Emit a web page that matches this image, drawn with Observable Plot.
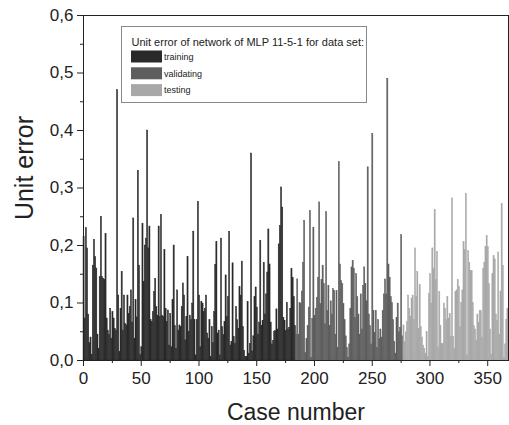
<!DOCTYPE html>
<html>
<head>
<meta charset="utf-8">
<script src="https://cdn.jsdelivr.net/npm/d3@7"></script>
<script src="https://cdn.jsdelivr.net/npm/@observablehq/plot@0.6"></script>
<style>
  html, body { margin: 0; padding: 0; background: #fff; }
  svg { display: block; }
</style>
</head>
<body>
<div id="chart"></div>
<script>
// Unit error per case
const training = [
  0.215, 0.073, 0.23, 0.195, 0.08, 0.03, 0.04, 0.01, 0.165, 0.21, 0.18, 0.16, 0.045, 0.02, 0.145, 0.25, 0.145, 0.142, 0.14, 0.22, 0.073, 0.052, 0.044, 0.09, 0.038, 0.084, 0.073, 0.055, 0.052, 0.47,
  0.113, 0.015, 0.09, 0.154, 0.052, 0.113, 0.064, 0.061, 0.113, 0.081, 0.093, 0.122, 0.066, 0.247, 0.038, 0.105, 0.075, 0.33,
  0.165, 0.01, 0.023, 0.238, 0.137, 0.2, 0.212, 0.40,
  0.195, 0.233, 0.07, 0.067, 0.084, 0.119, 0.142, 0.093, 0.078, 0.233, 0.076, 0.253, 0.078, 0.076, 0.192, 0.09, 0.067, 0.087, 0.026, 0.081, 0.023, 0.105, 0.2, 0.06, 0.02, 0.122, 0.052, 0.061, 0.058, 0.093, 0.134, 0.113,
  0.035, 0.076, 0.18, 0.05, 0.078, 0.07, 0.099, 0.224, 0.07, 0.009, 0.07, 0.276,
  0.113, 0.023, 0.102, 0.099, 0.084, 0.09, 0.113, 0.047, 0.038, 0.07, 0.006, 0.058, 0.03, 0.084, 0.166, 0.206, 0.047, 0.052, 0.009, 0.212, 0.058, 0.044, 0.067, 0.148, 0.076, 0.11, 0.224, 0.026, 0.032, 0.169, 0.041, 0.029, 0.093, 0.07, 0.055, 0.128, 0.113, 0.172, 0.058, 0.017, 0.006, 0.006, 0.102, 0.012, 0.029, 0.36,
  0.016, 0.042, 0.11, 0.127, 0.092, 0.045, 0.066, 0.208, 0.06, 0.069, 0.17, 0.08, 0.115, 0.153, 0.228, 0.167, 0.066, 0.028, 0.034, 0.05, 0.051, 0.089, 0.054, 0.202, 0.234, 0.301,
  0.266, 0.074, 0.069, 0.051, 0.1, 0.054, 0.057, 0.09, 0.159, 0.144, 0.11, 0.06
];
const validating = [
  0.045, 0.141, 0.045, 0.1, 0.098, 0.12, 0.17, 0.243, 0.013, 0.037, 0.06, 0.092, 0.26, 0.005, 0.072, 0.231, 0.077, 0.09, 0.109, 0.144, 0.275, 0.098, 0.14, 0.165, 0.133, 0.063, 0.258, 0.086, 0.13, 0.06, 0.103, 0.08, 0.124, 0.121, 0.045, 0.121, 0.022, 0.345,
  0.167, 0.138, 0.133, 0.098, 0.07, 0.042, 0.022, 0.005, 0.028, 0.09, 0.162, 0.173, 0.159, 0.074, 0.15, 0.11, 0.08, 0.045, 0.115, 0.054, 0.13, 0.162, 0.133, 0.103, 0.336,
  0.08, 0.06, 0.028, 0.394,
  0.086, 0.048, 0.086, 0.022, 0.07, 0.037, 0.054, 0.04, 0.086, 0.115, 0.141, 0.115, 0.49,
  0.167, 0.144, 0.11, 0.1, 0.07, 0.032, 0.012, 0.074, 0.099, 0.049, 0.057, 0.218, 0.042
];
const testing = [
  0.061, 0.032, 0.049, 0.067, 0.113, 0.09, 0.076, 0.108, 0.113, 0.07, 0.195, 0.11, 0.154, 0.055, 0.131, 0.058, 0.04, 0.026, 0.02, 0.012, 0.05, 0.006, 0.116, 0.15, 0.099, 0.195, 0.16, 0.262, 0.14, 0.189, 0.023, 0.119, 0.06, 0.029, 0.029, 0.099, 0.09, 0.07, 0.11, 0.073, 0.081, 0.041, 0.282,
  0.041, 0.02, 0.119, 0.122, 0.14, 0.128, 0.058, 0.1, 0.122, 0.206, 0.192, 0.29,
  0.009, 0.19, 0.17, 0.156, 0.156, 0.1, 0.06, 0.054, 0.034, 0.08, 0.066, 0.086, 0.086, 0.04, 0.159, 0.17, 0.197, 0.217, 0.197, 0.133, 0.054, 0.01, 0.15, 0.182, 0.176, 0.08, 0.069, 0.188, 0.045, 0.12, 0.272, 0.165, 0.005, 0.028, 0.07, 0.09
];
const setNames = ["training", "validating", "testing"];
const setColors = ["#2a2a2a", "#5e5e5e", "#a8a8a8"];
const xTicks = [0, 50, 100, 150, 200, 250, 300, 350];
const xMinor = [25, 75, 125, 175, 225, 275, 325];
const yTicks = [0, 0.1, 0.2, 0.3, 0.4, 0.5, 0.6];
const yMinor = [0.05, 0.15, 0.25, 0.35, 0.45, 0.55];
const legendTitle = "Unit error of network of MLP 11-5-1 for data set:";
const xTitle = "Case number";
const yTitle = "Unit error";

const rows = [];
let n = 0;
[training, validating, testing].forEach((arr, k) => {
  arr.forEach(v => { n += 1; rows.push({c: n, v, set: setNames[k]}); });
});

const fmt = d => d.toFixed(1).replace(".", ",");
const font = "'Liberation Sans', Arial, sans-serif";

const svg = Plot.plot({
  width: 509,
  height: 425,
  marginLeft: 83,
  marginRight: 1,
  marginTop: 15,
  marginBottom: 65,
  style: {fontFamily: font, color: "#222", background: "#fff"},
  x: {domain: [0, 368]},
  y: {domain: [0, 0.6]},
  color: {domain: setNames, range: setColors},
  marks: [
    Plot.rect(rows, {x1: d => d.c - 1, x2: d => d.c, y1: 0, y2: "v", fill: "set", stroke: "set", strokeWidth: 0.45, inset: 0}),
    Plot.axisX({ticks: xTicks, tickSize: 6, tickPadding: 5, tickFormat: d => String(d), fontSize: 17, label: null, stroke: "#222"}),
    Plot.axisX({ticks: xMinor, tickSize: 3, tickFormat: () => "", label: null, stroke: "#222"}),
    Plot.axisY({ticks: yTicks, tickSize: 6, tickPadding: 4, tickFormat: fmt, fontSize: 17, label: null, stroke: "#222"}),
    Plot.axisY({ticks: yMinor, tickSize: 3, tickFormat: () => "", label: null, stroke: "#222"}),
    Plot.frame({stroke: "#222", strokeWidth: 1})
  ]
});

document.getElementById("chart").appendChild(svg);

const s = d3.select(svg);
// axis titles
s.append("text")
  .attr("x", 296).attr("y", 420)
  .attr("text-anchor", "middle")
  .attr("font-family", font).attr("font-size", 23).attr("fill", "#222")
  .text(xTitle);
s.append("text")
  .attr("transform", "translate(33,168) rotate(-90)")
  .attr("text-anchor", "middle")
  .attr("font-family", font).attr("font-size", 25).attr("fill", "#222")
  .text(yTitle);

// legend box
const lg = s.append("g").attr("text-anchor", "start");
lg.append("rect")
  .attr("x", 121.5).attr("y", 26.5).attr("width", 245).attr("height", 76)
  .attr("fill", "#fff").attr("stroke", "#888").attr("stroke-width", 1);
lg.append("text")
  .attr("x", 131.5).attr("y", 46)
  .attr("text-anchor", "start")
  .attr("font-family", font).attr("font-size", 11).attr("fill", "#222")
  .text(legendTitle);
setNames.forEach((name, i) => {
  const cy = 56.5 + i * 16.8;
  lg.append("rect")
    .attr("x", 131).attr("y", cy - 6).attr("width", 31).attr("height", 12)
    .attr("fill", setColors[i]);
  lg.append("text")
    .attr("x", 164).attr("y", cy + 3.2)
    .attr("text-anchor", "start")
    .attr("font-family", font).attr("font-size", 9).attr("fill", "#222")
    .text(name);
});
</script>
</body>
</html>
